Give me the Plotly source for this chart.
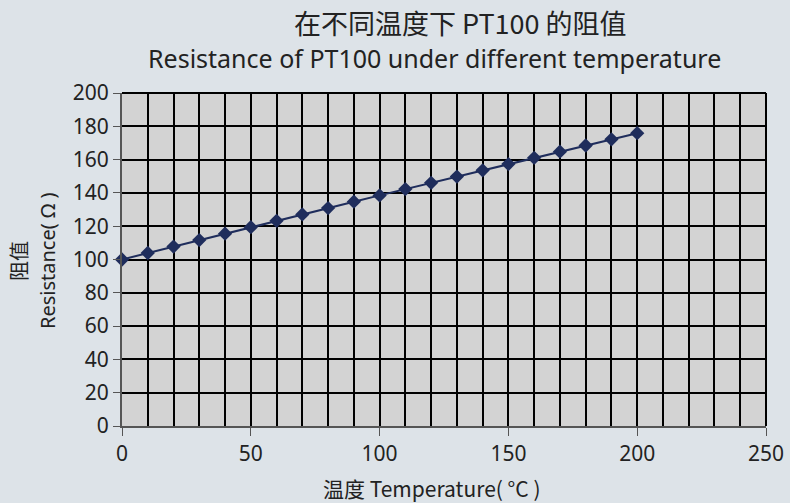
import plotly.graph_objects as go

temperature = [0, 10, 20, 30, 40, 50, 60, 70, 80, 90, 100, 110, 120, 130, 140, 150, 160, 170, 180, 190, 200]
resistance = [100.0, 103.9, 107.79, 111.67, 115.54, 119.4, 123.24, 127.08, 130.9, 134.71, 138.51,
              142.29, 146.07, 149.83, 153.58, 157.33, 161.05, 164.77, 168.48, 172.17, 175.86]

title_cn = "在不同温度下 PT100 的阻值"
title_en = "Resistance of PT100 under different temperature"
x_title = "温度 Temperature( °C )"
y_title_cn = "阻值"
y_title_en = "Resistance( Ω )"

font_family = "Noto Sans, Noto Sans CJK SC, sans-serif"
cjk_family = "Noto Sans CJK SC, Noto Sans, sans-serif"
text_color = "#222222"

W, H = 790, 503
L, R, T, B = 122, 24, 93, 77
PW, PH = W - L - R, H - T - B


def px(x):
    return (x - L) / PW


def py(y):
    return (H - B - y) / PH


fig = go.Figure()
fig.add_trace(go.Scatter(
    x=temperature, y=resistance, mode="lines+markers",
    line=dict(color="#1f2d5c", width=2),
    marker=dict(symbol="diamond", size=11, color="#1f2d5c"),
    showlegend=False, cliponaxis=False,
))

ann = [
    dict(text=title_cn, x=px(460), y=py(22), font=dict(size=27, family=cjk_family, color=text_color)),
    dict(text=title_en, x=px(434), y=py(58), font=dict(size=25, family=font_family, color=text_color)),
    dict(text=x_title, x=px(432), y=py(488), font=dict(size=21, family=cjk_family, color=text_color)),
    dict(text=y_title_cn, x=px(18), y=py(261), textangle=-90, font=dict(size=20, family=cjk_family, color=text_color)),
    dict(text=y_title_en, x=px(47), y=py(261), textangle=-90, font=dict(size=20, family=font_family, color=text_color)),
]
for a in ann:
    a.update(xref="paper", yref="paper", showarrow=False, xanchor="center", yanchor="middle")

# black frame on top and right edges (grid lines at 200 and 250)
shapes = [
    dict(type="line", xref="paper", yref="paper", x0=0, x1=1, y0=1, y1=1,
         line=dict(color="#000000", width=2), layer="above"),
    dict(type="line", xref="paper", yref="paper", x0=1, x1=1, y0=0, y1=1,
         line=dict(color="#000000", width=2), layer="above"),
]

fig.update_layout(
    width=W, height=H,
    autosize=False,
    margin=dict(l=L, r=R, t=T, b=B, pad=0, autoexpand=False),
    paper_bgcolor="#dde3e8",
    plot_bgcolor="#d3d3d3",
    font=dict(family=font_family, color=text_color, size=20),
    annotations=ann,
    shapes=shapes,
)

fig.update_xaxes(
    range=[0, 250], dtick=50, tick0=0,
    showgrid=True, gridcolor="#000000", gridwidth=2,
    minor=dict(dtick=10, showgrid=True, gridcolor="#000000", gridwidth=2, ticks=""),
    showline=True, linecolor="#555555", linewidth=2,
    ticks="outside", ticklen=8, tickcolor="#555555", tickwidth=1,
    tickfont=dict(size=21, color=text_color),
    zeroline=False, fixedrange=True, automargin=False,
)
fig.update_yaxes(
    range=[0, 200], dtick=20, tick0=0,
    showgrid=True, gridcolor="#000000", gridwidth=2,
    showline=True, linecolor="#555555", linewidth=2,
    ticks="outside", ticklen=7, tickcolor="#555555", tickwidth=1,
    tickfont=dict(size=21, color=text_color),
    zeroline=False, fixedrange=True, automargin=False,
)

fig.write_html(
    "out.html",
    config={"displayModeBar": False},
    post_script="document.body.style.margin='0';document.body.style.padding='0';",
)
